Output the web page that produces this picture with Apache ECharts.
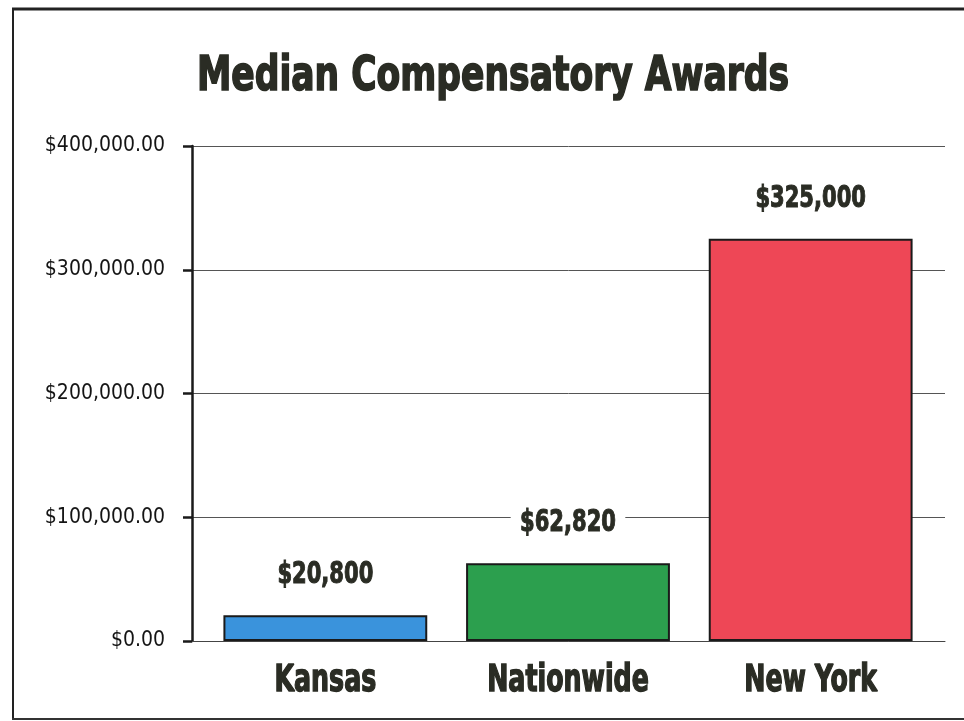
<!DOCTYPE html>
<html>
<head>
<meta charset="utf-8">
<script src="https://cdn.jsdelivr.net/npm/echarts@6/dist/echarts.min.js"></script>
<style>
  html, body { margin: 0; padding: 0; background: #ffffff; }
  #chart { width: 964px; height: 721px; }
</style>
</head>
<body>
<div id="chart"></div>
<script>
// Median compensatory awards by jurisdiction
const categories = ['Kansas', 'Nationwide', 'New York'];
const awards = [20800, 62820, 325000];
const valueLabels = ['$20,800', '$62,820', '$325,000'];
const barColors = ['#3a93dc', '#2c9f4e', '#ee4756'];
const yTicks = [0, 100000, 200000, 300000, 400000];
const yTickLabels = ['$0.00', '$100,000.00', '$200,000.00', '$300,000.00', '$400,000.00'];

// Heavy condensed face: bold condensed type squeezed horizontally
const heavy = '"DejaVu Sans Condensed", "DejaVu Sans", sans-serif';
const ink = '#2a2c24';
const squeeze = 0.78;

const chart = echarts.init(document.getElementById('chart'), null, { renderer: 'canvas' });

const yRange = { min: yTicks[0], max: yTicks[yTicks.length - 1], interval: yTicks[1] - yTicks[0] };

// Text marks for each bar: value above the bar, category name under the axis
function renderLabels(params, api) {
  const i = api.value(0);
  const top = api.coord([i, api.value(1)]);
  const base = api.coord([i, 0]);
  return {
    type: 'group',
    children: [
      {
        type: 'text',
        x: top[0], y: top[1] - 40,
        scaleX: squeeze,
        style: {
          text: valueLabels[i],
          align: 'center', verticalAlign: 'middle',
          font: 'bold 30px ' + heavy,
          fill: ink, stroke: ink, lineWidth: 1,
          backgroundColor: '#ffffff',
          padding: [2, 12]
        }
      },
      {
        type: 'text',
        x: base[0], y: base[1] + 40,
        scaleX: 0.76,
        style: {
          text: categories[i],
          align: 'center', verticalAlign: 'middle',
          font: 'bold 37px ' + heavy,
          fill: ink, stroke: ink, lineWidth: 1.4
        }
      }
    ]
  };
}

chart.setOption({
  backgroundColor: '#ffffff',
  animation: false,
  grid: [
    // axis frame and gridlines
    { left: 192, right: 19, top: 146, bottom: 80 },
    // bar slots, set slightly inside the gridlines
    { left: 204, right: 32, top: 146, bottom: 80 }
  ],
  xAxis: [
    {
      gridIndex: 0, type: 'category', data: categories,
      axisTick: { show: false }, axisLabel: { show: false },
      axisLine: { show: true, lineStyle: { color: '#444', width: 1 } }
    },
    {
      gridIndex: 1, type: 'category', data: categories,
      axisTick: { show: false }, axisLabel: { show: false }, axisLine: { show: false }
    }
  ],
  yAxis: [
    {
      gridIndex: 0, type: 'value',
      min: yRange.min, max: yRange.max, interval: yRange.interval,
      axisLine: { show: true, lineStyle: { color: '#1a1a1a', width: 2.5 } },
      axisTick: { show: true, length: 9, lineStyle: { color: '#1a1a1a', width: 2.5 } },
      splitLine: { show: true, lineStyle: { color: '#555', width: 1 } },
      axisLabel: {
        margin: 27,
        fontFamily: heavy,
        fontSize: 21,
        color: '#141414',
        formatter: function (v) {
          const i = yTicks.indexOf(v);
          return i >= 0 ? yTickLabels[i] : '';
        }
      }
    },
    {
      gridIndex: 1, type: 'value',
      min: yRange.min, max: yRange.max, interval: yRange.interval,
      axisLine: { show: false }, axisTick: { show: false },
      axisLabel: { show: false }, splitLine: { show: false }
    }
  ],
  series: [
    {
      type: 'bar',
      xAxisIndex: 1, yAxisIndex: 1,
      barWidth: '84%',
      data: awards.map(function (v, i) {
        return { value: v, itemStyle: { color: barColors[i] } };
      }),
      itemStyle: { borderColor: '#1a1a1a', borderWidth: 2 }
    },
    {
      type: 'custom',
      xAxisIndex: 1, yAxisIndex: 1,
      clip: false,
      z: 5,
      data: awards.map(function (v, i) { return [i, v]; }),
      encode: { x: 0, y: 1 },
      renderItem: renderLabels
    }
  ],
  graphic: [
    {
      type: 'text',
      x: 493, y: 78,
      scaleX: 0.8,
      style: {
        text: 'Median Compensatory Awards',
        align: 'center', verticalAlign: 'middle',
        font: 'bold 48px ' + heavy,
        fill: ink, stroke: ink, lineWidth: 1.6
      }
    },
    { type: 'line', shape: { x1: 12, y1: 9, x2: 964, y2: 9 }, style: { stroke: '#222', lineWidth: 3 } },
    { type: 'line', shape: { x1: 13, y1: 8, x2: 13, y2: 720 }, style: { stroke: '#222', lineWidth: 2 } },
    { type: 'line', shape: { x1: 12, y1: 719, x2: 964, y2: 719 }, style: { stroke: '#333', lineWidth: 2 } }
  ]
});
</script>
</body>
</html>
